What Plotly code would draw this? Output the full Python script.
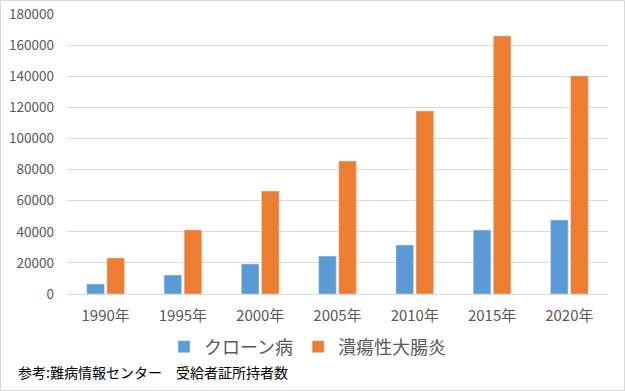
import plotly.graph_objects as go

years = ["1990年", "1995年", "2000年", "2005年", "2010年", "2015年", "2020年"]
crohn = [6400, 12200, 19300, 24400, 31500, 41200, 47600]
uc = [23200, 41200, 66200, 85500, 117700, 165900, 140200]
series_names = ["クローン病", "潰瘍性大腸炎"]
source_text = "参考:難病情報センター　受給者証所持者数"
y_ticks = [0, 20000, 40000, 60000, 80000, 100000, 120000, 140000, 160000, 180000]

W, H = 625, 391
ml, mr, mt, mb = 67, 17, 14, 97
pw, ph = W - ml - mr, H - mt - mb

def px_x(p):
    return (p - ml) / pw

def px_y(p):
    return (H - mb - p) / ph

font = "Noto Sans CJK JP, Meiryo, sans-serif"

fig = go.Figure()
fig.add_trace(go.Bar(x=years, y=crohn, name=series_names[0], marker_color="#5B9BD5"))
fig.add_trace(go.Bar(x=years, y=uc, name=series_names[1], marker_color="#ED7D31"))

fig.update_layout(
    width=W, height=H,
    margin=dict(l=ml, r=mr, t=mt, b=mb, autoexpand=False),
    paper_bgcolor="white", plot_bgcolor="white",
    barmode="group", bargap=0.48, bargroupgap=0.12,
    font=dict(family=font, color="#595959"),
    showlegend=True,
    legend=dict(orientation="h", x=px_x(164), xanchor="left", y=px_y(347), yanchor="middle",
                font=dict(size=18, color="#595959"), itemwidth=30, tracegroupgap=0,
                bgcolor="rgba(0,0,0,0)"),
    xaxis=dict(showgrid=False, showline=True, linecolor="#D9D9D9", linewidth=1,
               tickfont=dict(size=15, color="#595959"), ticks="", ticklabelstandoff=8),
    yaxis=dict(range=[0, 180000], tickvals=y_ticks, ticktext=[str(v) for v in y_ticks],
               showgrid=True, gridcolor="#D9D9D9", gridwidth=1,
               zeroline=True, zerolinecolor="#D9D9D9", zerolinewidth=1,
               tickfont=dict(size=13.5, color="#595959"), ticks="", ticklabelstandoff=12),
    annotations=[dict(text=source_text, xref="paper", yref="paper", x=px_x(16), y=px_y(372),
                      xanchor="left", yanchor="middle", showarrow=False,
                      font=dict(size=14, color="#000000", family=font))],
    shapes=[dict(type="rect", xref="paper", yref="paper",
                 x0=px_x(0.5), x1=px_x(W - 0.5), y0=px_y(H - 0.5), y1=px_y(0.5),
                 line=dict(color="#D9D9D9", width=1), layer="below")],
)

fig.write_html("out.html", config={"displayModeBar": False},
               post_script="document.body.style.margin='0';document.body.style.overflow='hidden';")
